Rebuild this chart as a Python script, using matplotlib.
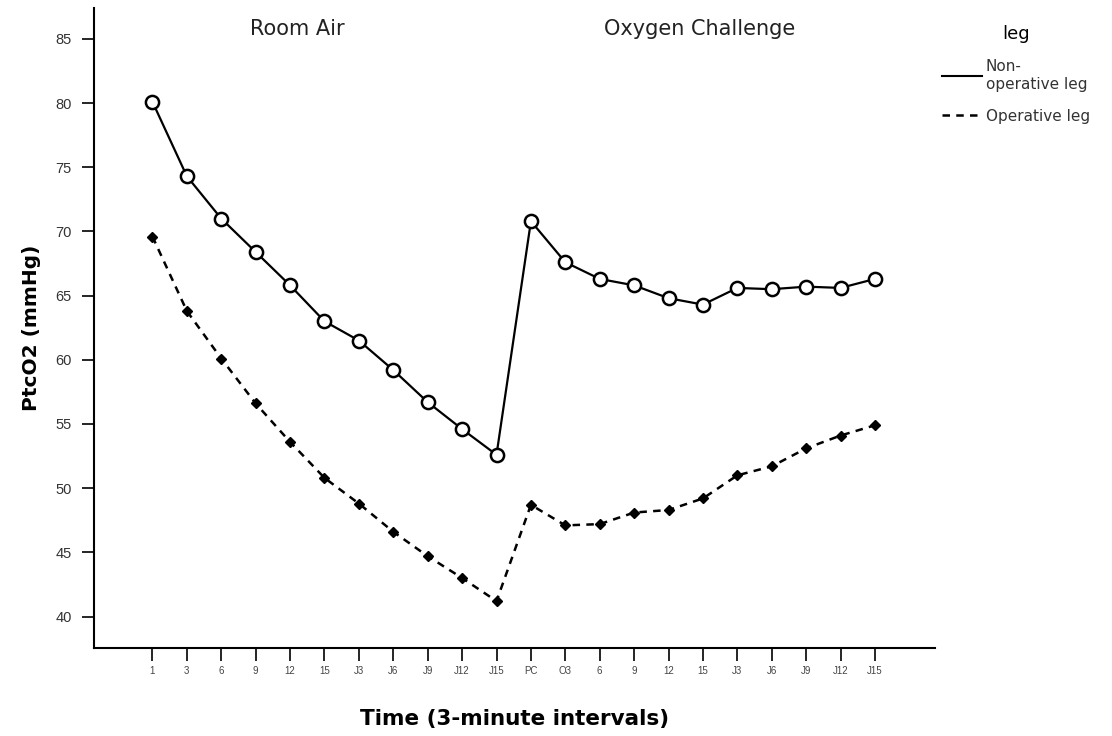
import numpy as np
import matplotlib
matplotlib.use('Agg')
import matplotlib.pyplot as plt
from matplotlib.lines import Line2D

plt.rcParams['font.family'] = ['Liberation Sans', 'DejaVu Sans']

# time point labels (room air, then oxygen challenge)
time_labels = ['1', '3', '6', '9', '12', '15', 'J3', 'J6', 'J9', 'J12', 'J15',
               'PC', 'O3', '6', '9', '12', '15', 'J3', 'J6', 'J9', 'J12', 'J15']

non_operative = [80.1, 74.3, 71.0, 68.4, 65.8, 63.0, 61.5, 59.2, 56.7, 54.6, 52.6,
                 70.8, 67.6, 66.3, 65.8, 64.8, 64.3, 65.6, 65.5, 65.7, 65.6, 66.3]
operative = [69.6, 63.8, 60.1, 56.6, 53.6, 50.8, 48.8, 46.6, 44.7, 43.0, 41.2,
             48.7, 47.1, 47.2, 48.1, 48.3, 49.2, 51.0, 51.7, 53.1, 54.1, 54.9]

phases = ['Room Air', 'Oxygen Challenge']
legend_labels = ['Non-\noperative leg', 'Operative leg']

fig = plt.figure(figsize=(11.12, 7.36), dpi=100)
ax = fig.add_axes([0.0845, 0.1196, 0.7565, 0.8694])

x = np.arange(len(time_labels))

ax.plot(x, non_operative, color='black', linewidth=1.6, linestyle='-',
        marker='o', markersize=9.5, markerfacecolor='white', markeredgecolor='black',
        markeredgewidth=1.8)
ax.plot(x, operative, color='black', linewidth=1.8, linestyle=(0, (3, 2.5)),
        marker='D', markersize=5.5, markerfacecolor='black', markeredgecolor='black')

ax.set_xlim(-1.7, 22.75)
ax.set_ylim(37.55, 87.4)
ax.set_yticks(np.arange(40, 86, 5))
ax.set_xticks(x)
ax.set_xticklabels(time_labels, fontsize=7, color='#444444')
ax.tick_params(axis='y', labelsize=10.5, labelcolor='#333333', length=9, width=1.2, pad=7)
ax.tick_params(axis='x', length=9, width=1.2, pad=4)

for side in ['top', 'right']:
    ax.spines[side].set_visible(False)
for side in ['left', 'bottom']:
    ax.spines[side].set_linewidth(1.5)

ax.text(4.2, 85.8, phases[0], fontsize=15, family='DejaVu Sans',
        ha='center', va='center', color='#222222')
ax.text(15.9, 85.8, phases[1], fontsize=15, family='DejaVu Sans',
        ha='center', va='center', color='#222222')

ax.set_ylabel('PtcO2 (mmHg)', fontsize=14.5, family='DejaVu Sans',
              fontweight='bold', labelpad=10)
ax.set_xlabel('Time (3-minute intervals)', fontsize=15.5, family='DejaVu Sans',
              fontweight='bold', labelpad=24)

handles = [Line2D([], [], color='black', linewidth=1.5, linestyle='-'),
           Line2D([], [], color='black', linewidth=1.8, linestyle=(0, (3, 2.5)))]
leg = fig.legend(handles, legend_labels, title='leg', loc='upper left',
                 bbox_to_anchor=(0.842, 0.975), frameon=False,
                 prop={'family': 'DejaVu Sans', 'size': 11},
                 title_fontproperties={'family': 'DejaVu Sans', 'size': 13},
                 handlelength=2.6, handletextpad=0.25,
                 labelspacing=1.1, borderaxespad=0)
for t in leg.get_texts():
    t.set_color('#333333')

fig.savefig('out.png', dpi=100)
